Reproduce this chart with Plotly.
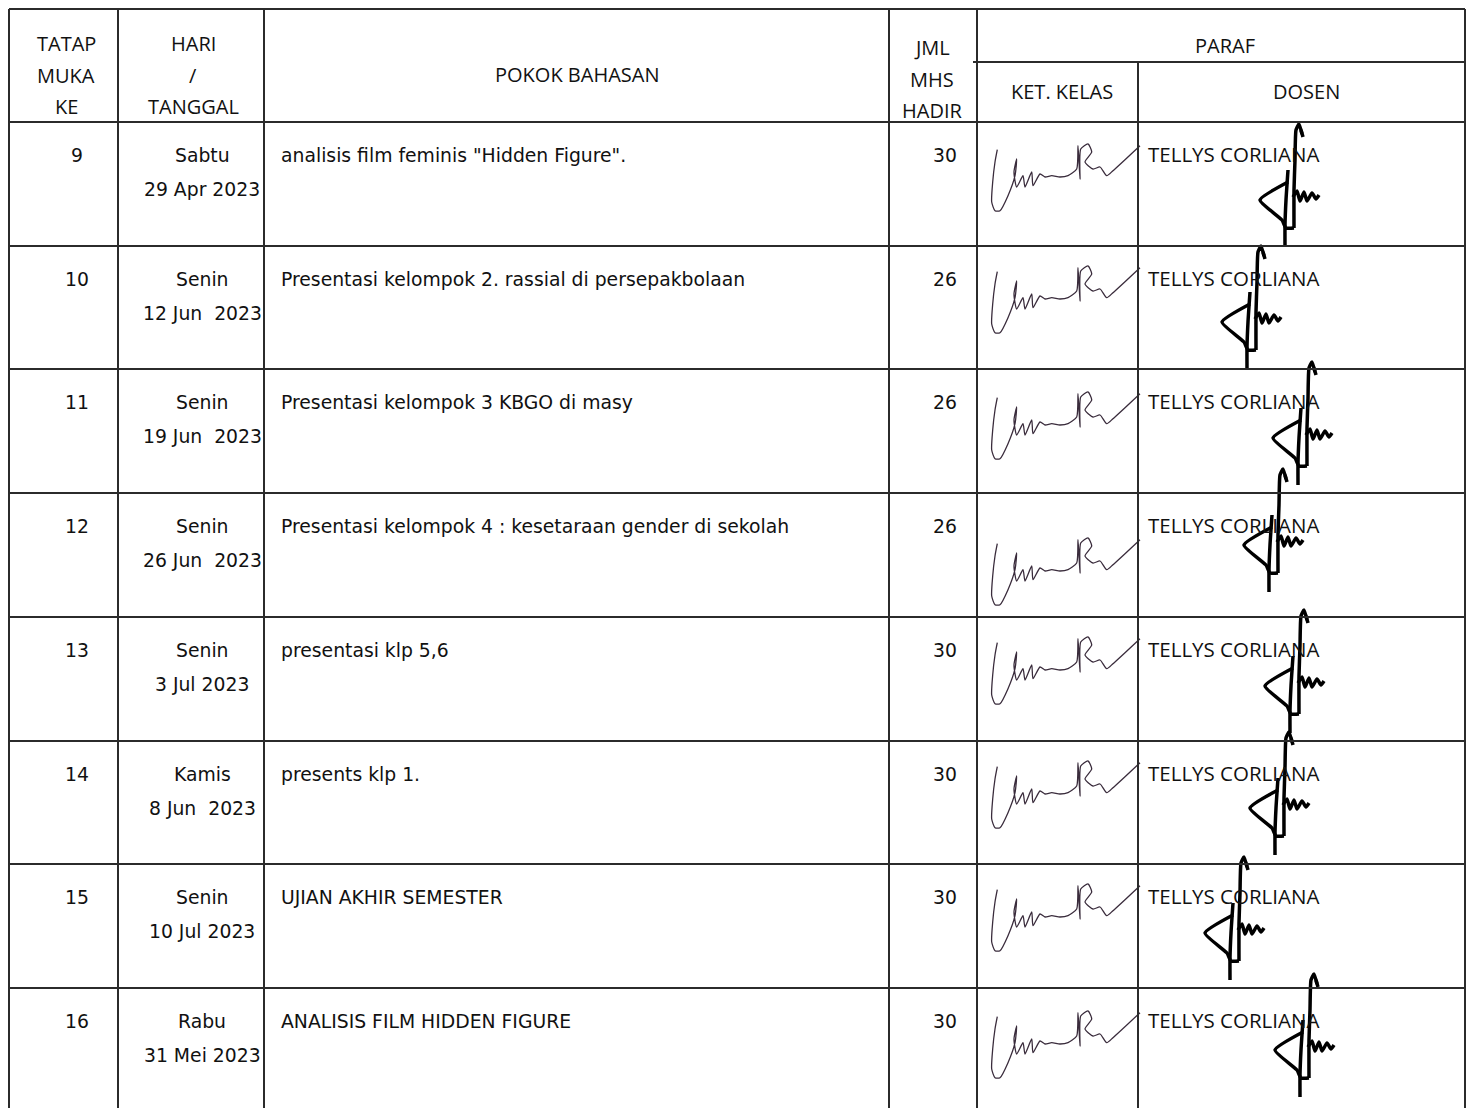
import plotly.graph_objects as go

# ---------------- data ----------------
tatap_muka = ["9", "10", "11", "12", "13", "14", "15", "16"]
hari = ["Sabtu", "Senin", "Senin", "Senin", "Senin", "Kamis", "Senin", "Rabu"]
tanggal = ["29 Apr 2023", "12 Jun\u00a0\u00a02023", "19 Jun\u00a0\u00a02023", "26 Jun\u00a0\u00a02023",
           "3 Jul 2023", "8 Jun\u00a0\u00a02023", "10 Jul 2023", "31 Mei 2023"]
pokok_bahasan = [
    'analisis film feminis "Hidden Figure".',
    "Presentasi kelompok 2. rassial di persepakbolaan",
    "Presentasi kelompok 3 KBGO di masy",
    "Presentasi kelompok 4 : kesetaraan gender di sekolah",
    "presentasi klp 5,6",
    "presents klp 1.",
    "UJIAN AKHIR SEMESTER",
    "ANALISIS FILM HIDDEN FIGURE",
]
jml_mhs_hadir = [30, 26, 26, 26, 30, 30, 30, 30]
dosen = ["TELLYS CORLIANA"] * 8

# ---------------- layout geometry (page pixels) ----------------
W, H = 1474, 1108
PAGE_MARGIN = 8  # default body margin of the html page
VIS_RIGHT = W - PAGE_MARGIN
col_x = [9, 118, 264, 889, 977, 1138, 1465]
top_y, paraf_split_y, header_bottom = 9, 62, 122
row_tops = [122, 246, 369, 493, 617, 741, 864, 988]
line_col = "#2b2b2b"

# signature strokes (templates)
ket_sig = [(997.3, 25.7), (995, 38), (992.7, 58), (991.7, 78), (995, 86.7), (1000, 86.7),
           (1008, 71.7), (1015, 51.7), (1016.7, 35), (1014, 48), (1016.7, 63), (1023, 51.7),
           (1025, 63), (1031.7, 48), (1033, 61.7), (1040, 50), (1045, 53), (1051.7, 51.7),
           (1060, 53), (1068, 51.7), (1076.7, 45), (1078, 21.7), (1080, 55), (1080.7, 25),
           (1088, 20), (1091.7, 28), (1085, 38), (1093, 45), (1100, 43), (1106.7, 51.7),
           (1113, 46.7), (1140, 21.7)]
ket_dy = [2, 0, 3, 25, 0, 0, 0, 3]

dosen_strokes = [
    [(42, -66), (39, -76), (36, -70), (35, -40), (34, -10), (34, 28)],
    [(28, -30), (26, 0), (25, 25), (25, 47)],
    [(28, -18), (0, 0), (22, 20), (26, 28), (34, 28)],
    [(33, -3), (37, -9), (40, 1), (44, -8), (47, 1), (52, -7), (56, -1), (59, -5)],
    [(41, -70), (43, -63)],
]
dosen_ax = [1260, 1222, 1273, 1244, 1265, 1250, 1205, 1275]
dosen_ay = [200, 322, 438, 545, 686, 808, 933, 1050]

fig = go.Figure()

# ---------------- grid lines ----------------
shapes = []
def hline(y, x0, x1):
    shapes.append(dict(type="line", xref="x", yref="y", x0=x0, x1=x1, y0=y, y1=y,
                       line=dict(color=line_col, width=2)))
def vline(x, y0, y1):
    shapes.append(dict(type="line", xref="x", yref="y", x0=x, x1=x, y0=y0, y1=y1,
                       line=dict(color=line_col, width=2)))

hline(top_y, col_x[0], col_x[-1])
hline(paraf_split_y, col_x[4] - 4, col_x[-1])
for y in row_tops:
    hline(y, col_x[0], col_x[-1])
for i, x in enumerate(col_x):
    if i == 5:
        vline(x, paraf_split_y, H)
    else:
        vline(x, top_y, H)

# ---------------- text ----------------
anns = []
hdr_font = dict(family="Open Sans", size=20, color="#111")
body_font = dict(family="DejaVu Sans", size=18.8, color="#111")
name_font = dict(family="Open Sans", size=20.5, color="#111")

def txt(x, y, s, font, xanchor="center"):
    anns.append(dict(x=x, y=y, xref="x", yref="y", text=s, showarrow=False,
                     xanchor=xanchor, yanchor="middle", font=font))

# header
for s, y in zip(["TATAP", "MUKA", "KE"], [43, 75, 106]):
    txt(66, y, s, hdr_font)
for s, y in zip(["HARI", "/", "TANGGAL"], [43, 75, 106]):
    txt(193, y, s, hdr_font)
txt(577, 74, "POKOK BAHASAN", hdr_font)
for s, y in zip(["JML", "MHS", "HADIR"], [47, 79, 110]):
    txt(932, y, s, hdr_font)
txt(1225, 45, "PARAF", hdr_font)
txt(1062, 91, "KET. KELAS", hdr_font)
txt(1306, 91, "DOSEN", hdr_font)

# rows
for i, top in enumerate(row_tops):
    y1 = top + 33
    y2 = top + 67
    txt(77, y1, tatap_muka[i], body_font)
    txt(202, y1, hari[i], body_font)
    txt(202, y2, tanggal[i], body_font)
    txt(279, y1, pokok_bahasan[i], body_font, xanchor="left")
    txt(945, y1, str(jml_mhs_hadir[i]), body_font)
    txt(1146, y1 - 1, dosen[i], name_font, xanchor="left")

# ---------------- signatures ----------------
for i, top in enumerate(row_tops):
    xs = [p[0] for p in ket_sig]
    ys = [top + ket_dy[i] + p[1] for p in ket_sig]
    fig.add_trace(go.Scatter(x=xs, y=ys, mode="lines",
                             line=dict(color="#3a2c3c", width=1.3, shape="spline", smoothing=0.6),
                             hoverinfo="skip", showlegend=False))
    dx, dy = [], []
    for stroke in dosen_strokes:
        for px, py in stroke:
            dx.append(dosen_ax[i] + px)
            dy.append(dosen_ay[i] + py)
        dx.append(None)
        dy.append(None)
    fig.add_trace(go.Scatter(x=dx, y=dy, mode="lines",
                             line=dict(color="#000", width=3.5, shape="spline", smoothing=0.5),
                             hoverinfo="skip", showlegend=False))

fig.update_layout(
    width=VIS_RIGHT - PAGE_MARGIN, height=H - PAGE_MARGIN, margin=dict(l=0, r=0, t=0, b=0),
    paper_bgcolor="white", plot_bgcolor="white",
    xaxis=dict(range=[PAGE_MARGIN, VIS_RIGHT], visible=False, fixedrange=True),
    yaxis=dict(range=[H, PAGE_MARGIN], visible=False, fixedrange=True),
    shapes=shapes, annotations=anns, showlegend=False,
)
fig.write_html("out.html", config={"displayModeBar": False})
